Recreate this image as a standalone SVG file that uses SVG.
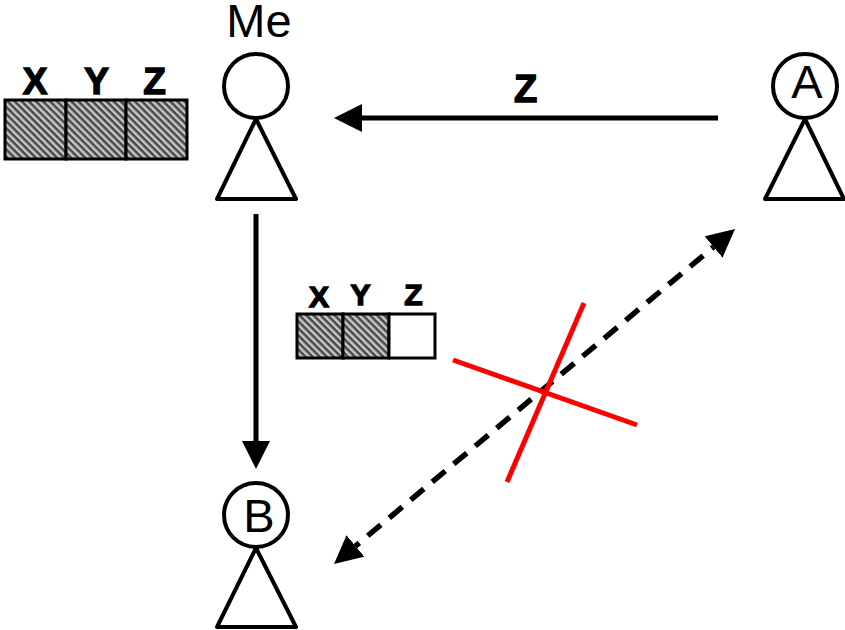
<svg xmlns="http://www.w3.org/2000/svg" width="845" height="630" viewBox="0 0 845 630">
<style>
.p{fill:none;stroke:#000;stroke-width:4;stroke-linejoin:round}
.c{fill:#fff;stroke:#000;stroke-width:4}
.l{font-family:"Liberation Sans",Arial,sans-serif;font-size:47px;text-anchor:middle;fill:#000}
.b{font-family:"Liberation Sans",Arial,sans-serif;font-weight:bold;text-anchor:middle;fill:#000;stroke:#000;stroke-width:1.4}
.h{fill:url(#hatch);stroke:#000;stroke-width:3}
.w{fill:#fff;stroke:#000;stroke-width:3}
.k{fill:none;stroke:#000;stroke-width:5}
.d{fill:none;stroke:#000;stroke-width:5.500;stroke-dasharray:17 11;stroke-dashoffset:12}
.r{fill:none;stroke:#f00;stroke-width:5}
</style>
<defs>
<pattern id="hatch" patternUnits="userSpaceOnUse" width="5" height="5" patternTransform="rotate(45)">
<rect width="5" height="5" fill="#c8c8c8"/>
<rect width="5" height="2.5" fill="#484848"/>
</pattern>
<marker id="ah" markerUnits="userSpaceOnUse" markerWidth="30" markerHeight="30" refX="0" refY="14" orient="auto-start-reverse" viewBox="0 0 30 30">
<path d="M0 0L28 14L0 28Z" fill="#000"/>
</marker>
</defs>
<g id="connectors">
<line class="k" x1="718" y1="118" x2="362" y2="118" marker-end="url(#ah)"/>
<line class="k" x1="256" y1="214" x2="256" y2="441" marker-end="url(#ah)"/>
<line class="d" x1="355.500" y1="546" x2="713.500" y2="247" marker-start="url(#ah)" marker-end="url(#ah)"/>
</g>
<g id="cross">
<line class="r" x1="584" y1="303" x2="507" y2="482"/>
<line class="r" x1="453" y1="360" x2="637" y2="425"/>
</g>
<g id="node-me">
<path class="p" d="M256 119L296 199H217Z"/>
<circle class="c" cx="256" cy="86" r="32"/>
<text class="l" x="259" y="37">Me</text>
</g>
<g id="node-a">
<path class="p" d="M805 119L844 199H765Z"/>
<circle class="c" cx="805" cy="86" r="32"/>
<text class="l" x="807" y="98">A</text>
</g>
<g id="node-b">
<path class="p" d="M256 548L296 627H217Z"/>
<circle class="c" cx="256" cy="515" r="32"/>
<text class="l" x="259" y="531.500">B</text>
</g>
<g id="bar-full">
<rect class="h" x="5" y="100" width="61" height="59"/>
<rect class="h" x="66" y="100" width="60" height="59"/>
<rect class="h" x="126" y="100" width="61" height="59"/>
<text class="b" font-size="37" x="35" y="94">X</text>
<text class="b" font-size="37" x="96.500" y="94">Y</text>
<text class="b" font-size="37" x="154.500" y="94">Z</text>
</g>
<g id="bar-partial">
<rect class="h" x="297" y="314" width="46" height="44"/>
<rect class="h" x="343" y="314" width="46" height="44"/>
<rect class="w" x="389" y="314" width="46" height="44"/>
<text class="b" font-size="30" x="319" y="307">X</text>
<text class="b" font-size="30" x="360.500" y="305">Y</text>
<text class="b" font-size="30" x="413.500" y="305">Z</text>
</g>
<text class="b" id="label-z" font-size="38" x="525.500" y="101.500">Z</text>
</svg>
